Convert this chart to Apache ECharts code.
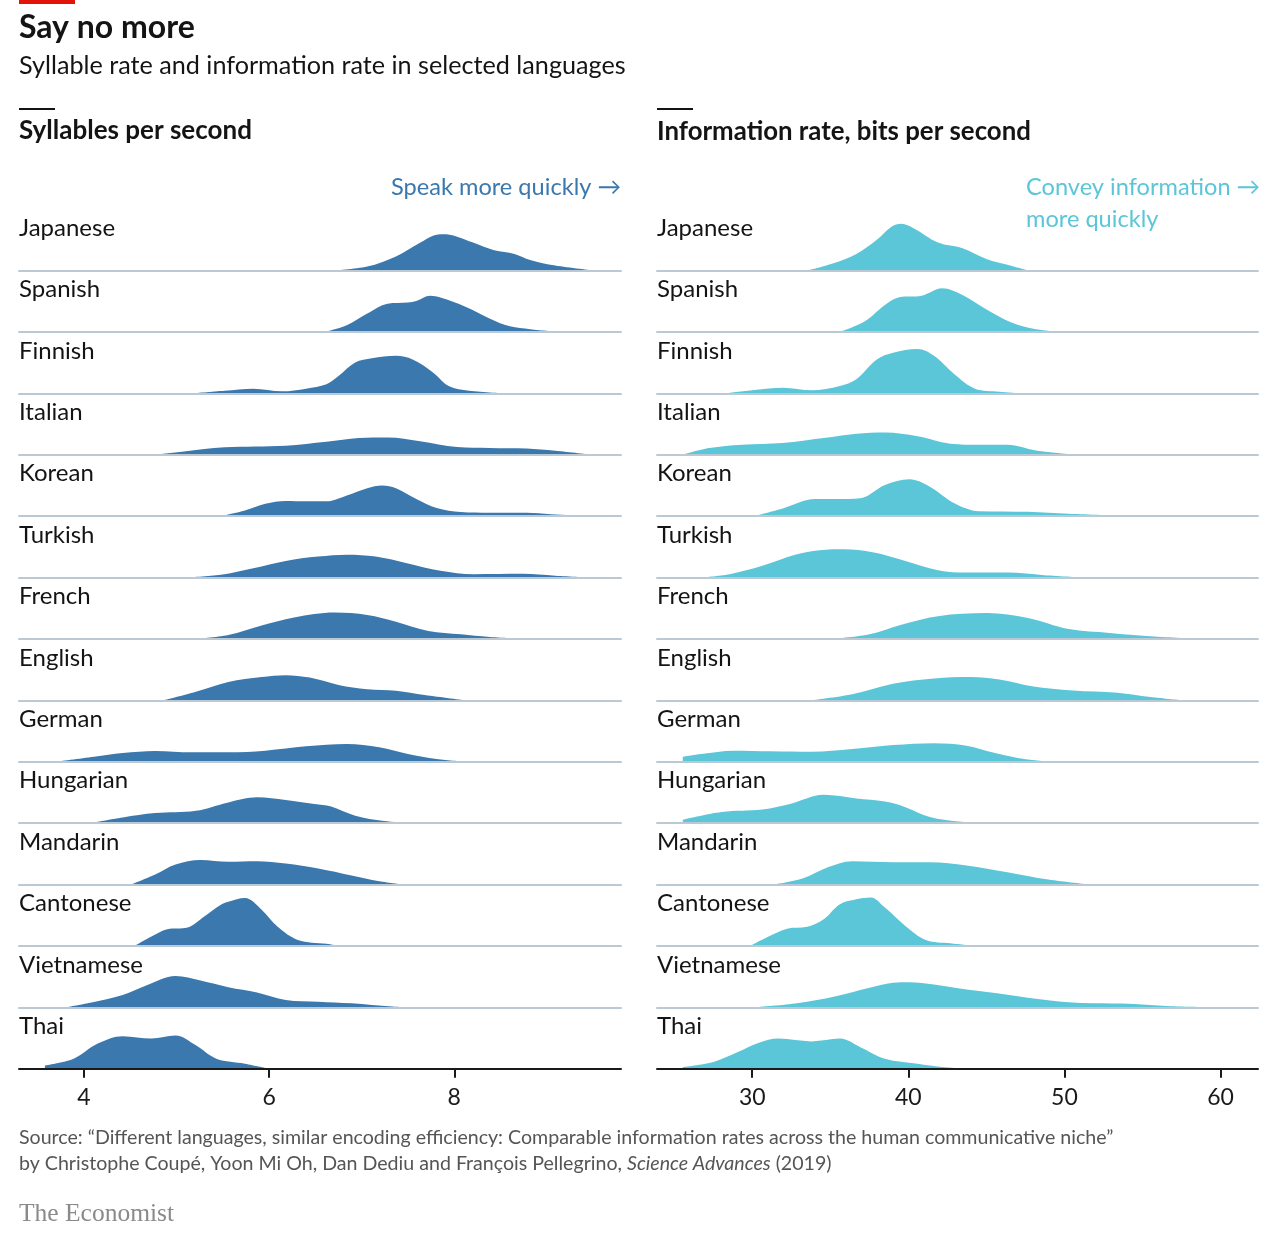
<!DOCTYPE html>
<html><head><meta charset="utf-8">
<script src="https://cdn.jsdelivr.net/npm/echarts@6/dist/echarts.min.js"></script>
<style>html,body{margin:0;padding:0;background:#fff}#c{width:1280px;height:1249px}</style>
</head><body><div id="c"></div>
<script>
// ---------- DATA ----------
const languages = ['Japanese','Spanish','Finnish','Italian','Korean','Turkish','French','English','German','Hungarian','Mandarin','Cantonese','Vietnamese','Thai'];
const syllableTicks = [4, 6, 8];
const infoTicks = [30, 40, 50, 60];

// Syllables per second: [rate, relative density]
const sylJapanese = [[6.69,0],[7.06,0.065],[7.37,0.23],[7.63,0.45],[7.77,0.565],[7.88,0.59],[7.99,0.57],[8.21,0.45],[8.43,0.33],[8.65,0.27],[8.82,0.17],[9.09,0.08],[9.5,0]];
const sylSpanish = [[6.6,0],[6.84,0.11],[7.06,0.3],[7.28,0.46],[7.5,0.48],[7.59,0.505],[7.74,0.59],[7.85,0.56],[8.12,0.41],[8.38,0.22],[8.6,0.09],[8.82,0.045],[9.13,0]];
const sylFinnish = [[5.17,0],[5.52,0.043],[5.83,0.076],[6.14,0.033],[6.4,0.076],[6.62,0.147],[6.75,0.28],[6.93,0.5],[7.11,0.57],[7.37,0.61],[7.55,0.55],[7.77,0.34],[7.94,0.12],[8.16,0.043],[8.56,0]];
const sylItalian = [[4.77,0],[5.08,0.054],[5.52,0.12],[6.18,0.147],[6.62,0.21],[6.97,0.27],[7.28,0.28],[7.63,0.22],[8.03,0.125],[8.38,0.11],[8.78,0.1],[9.09,0.065],[9.48,0]];
const sylKorean = [[5.48,0],[5.74,0.092],[5.96,0.2],[6.18,0.245],[6.4,0.24],[6.62,0.24],[6.84,0.335],[7.06,0.455],[7.22,0.5],[7.37,0.455],[7.59,0.28],[7.81,0.13],[8.07,0.065],[8.38,0.054],[8.78,0.054],[9.04,0.03],[9.48,0]];
const sylTurkish = [[5.12,0],[5.48,0.043],[5.83,0.15],[6.18,0.27],[6.53,0.34],[6.84,0.37],[7.15,0.34],[7.5,0.23],[7.85,0.11],[8.21,0.054],[8.74,0.06],[9.09,0.03],[9.48,0]];
const sylFrench = [[5.21,0],[5.56,0.065],[5.92,0.22],[6.27,0.35],[6.71,0.43],[7.06,0.39],[7.37,0.28],[7.72,0.13],[8.07,0.076],[8.38,0.032],[8.78,0]];
const sylEnglish = [[4.86,0],[5.21,0.14],[5.56,0.3],[5.92,0.38],[6.18,0.41],[6.44,0.37],[6.75,0.25],[7.06,0.18],[7.37,0.157],[7.68,0.087],[8.12,0]];
const sylGerman = [[3.71,0],[4.11,0.08],[4.42,0.14],[4.77,0.174],[5.17,0.152],[5.56,0.152],[5.96,0.18],[6.4,0.25],[6.84,0.29],[7.19,0.234],[7.5,0.125],[7.81,0.043],[8.12,0]];
const sylHungarian = [[4.07,0],[4.42,0.092],[4.77,0.163],[5.21,0.2],[5.56,0.337],[5.87,0.42],[6.18,0.375],[6.49,0.31],[6.67,0.27],[6.93,0.12],[7.24,0.033],[7.55,0]];
const sylMandarin = [[4.51,0],[4.77,0.163],[4.99,0.326],[5.26,0.4],[5.56,0.37],[5.87,0.38],[6.18,0.34],[6.53,0.26],[6.89,0.147],[7.19,0.054],[7.46,0]];
const sylCantonese = [[4.55,0],[4.73,0.152],[4.9,0.27],[5.12,0.3],[5.3,0.48],[5.48,0.67],[5.56,0.72],[5.74,0.78],[5.92,0.59],[6.09,0.315],[6.31,0.098],[6.62,0.033],[6.75,0]];
const sylVietnamese = [[3.8,0],[4.07,0.076],[4.42,0.2],[4.68,0.36],[4.99,0.51],[5.26,0.435],[5.56,0.326],[5.87,0.24],[6.18,0.12],[6.53,0.092],[6.89,0.065],[7.33,0.011],[7.5,0]];
const sylThai = [[3.58,0.054],[3.89,0.163],[4.15,0.41],[4.42,0.53],[4.73,0.49],[4.99,0.54],[5.21,0.38],[5.43,0.163],[5.74,0.082],[6.0,0]];

// Information rate, bits per second: [rate, relative density]
const infJapanese = [[33.53,0],[35.1,0.11],[36.67,0.27],[37.98,0.5],[38.9,0.71],[39.55,0.76],[40.33,0.69],[41.9,0.457],[43.47,0.364],[45.04,0.185],[46.35,0.092],[47.66,0]];
const infSpanish = [[35.62,0],[37.19,0.168],[38.5,0.44],[39.42,0.565],[40.86,0.59],[42.16,0.71],[43.47,0.6],[45.04,0.36],[46.61,0.152],[48.18,0.043],[49.75,0]];
const infFinnish = [[28.3,0],[30.13,0.054],[31.96,0.092],[33.8,0.049],[35.62,0.12],[36.67,0.23],[37.98,0.55],[39.02,0.66],[40.59,0.72],[41.64,0.61],[42.95,0.31],[44.26,0.076],[45.83,0.027],[47.13,0]];
const infItalian = [[25.55,0],[27.25,0.108],[29.35,0.163],[31.96,0.19],[34.58,0.27],[36.67,0.34],[38.5,0.36],[40.59,0.3],[42.69,0.18],[44.52,0.163],[46.35,0.163],[48.18,0.07],[50.8,0]];
const infKorean = [[30.13,0],[31.96,0.125],[34.05,0.277],[35.36,0.277],[36.93,0.29],[38.5,0.505],[40.07,0.6],[41.38,0.48],[42.95,0.21],[44.52,0.08],[47.66,0.07],[50.27,0.038],[54.2,0]];
const infTurkish = [[26.73,0],[28.56,0.054],[30.65,0.19],[32.75,0.37],[34.32,0.445],[35.89,0.46],[37.72,0.41],[39.81,0.27],[41.9,0.12],[43.73,0.08],[46.35,0.08],[48.7,0.038],[51.32,0]];
const infFrench = [[35.1,0],[37.45,0.07],[39.55,0.23],[41.9,0.37],[45.04,0.42],[47.66,0.34],[50.27,0.16],[52.89,0.097],[55.5,0.043],[58.64,0]];
const infEnglish = [[33.8,0],[36.41,0.097],[39.02,0.27],[41.64,0.357],[43.99,0.38],[45.83,0.34],[47.92,0.23],[50.53,0.16],[53.41,0.125],[55.5,0.054],[57.6,0]];
const infGerman = [[25.55,0.08],[26.73,0.125],[28.82,0.18],[31.18,0.17],[33.8,0.163],[36.41,0.206],[39.02,0.27],[41.64,0.3],[43.73,0.26],[45.56,0.14],[47.4,0.043],[49.23,0]];
const infHungarian = [[25.55,0.054],[28.04,0.18],[30.65,0.22],[32.48,0.315],[34.58,0.46],[36.67,0.4],[38.5,0.35],[39.81,0.26],[41.38,0.1],[43.21,0.027],[45.04,0]];
const infMandarin = [[31.44,0],[33.27,0.1],[34.84,0.28],[36.41,0.38],[39.02,0.364],[41.38,0.364],[43.73,0.31],[46.35,0.2],[48.96,0.08],[51.58,0]];
const infCantonese = [[29.87,0],[30.92,0.136],[32.23,0.28],[33.53,0.31],[34.58,0.435],[35.62,0.68],[36.67,0.76],[37.59,0.79],[38.5,0.625],[39.81,0.326],[41.12,0.098],[42.69,0.043],[44.26,0]];
const infVietnamese = [[30.13,0],[32.75,0.06],[35.36,0.18],[37.45,0.315],[39.02,0.4],[40.07,0.41],[41.64,0.37],[43.73,0.29],[46.35,0.206],[48.96,0.114],[51.06,0.07],[53.67,0.06],[56.81,0.016],[59.95,0]];
const infThai = [[25.55,0.027],[27.52,0.11],[29.08,0.27],[30.39,0.42],[31.7,0.49],[33.8,0.445],[35.62,0.49],[36.93,0.35],[38.5,0.163],[40.59,0.08],[42.16,0.027],[43.47,0]];

const syllableCurves = [sylJapanese,sylSpanish,sylFinnish,sylItalian,sylKorean,sylTurkish,sylFrench,sylEnglish,sylGerman,sylHungarian,sylMandarin,sylCantonese,sylVietnamese,sylThai];
const infoCurves = [infJapanese,infSpanish,infFinnish,infItalian,infKorean,infTurkish,infFrench,infEnglish,infGerman,infHungarian,infMandarin,infCantonese,infVietnamese,infThai];

// ---------- LAYOUT ----------
const FONT = 'Lato, "Noto Sans", sans-serif';
const FIRST_BASE = 270.5, ROW = 61.4;
const panels = [
  {left: 19, width: 602, min: 3.3, max: 9.8, ticks: syllableTicks, curves: syllableCurves, color: '#3a78ae'},
  {left: 657, width: 601, min: 23.9, max: 62.4, ticks: infoTicks, curves: infoCurves, color: '#5ac6d7'}
];

const grid = [], xAxis = [], yAxis = [], series = [], graphic = [];
let gi = 0;
panels.forEach(p => {
  languages.forEach((lang, r) => {
    const base = FIRST_BASE + r * ROW;
    const last = r === languages.length - 1;
    grid.push({left: p.left, width: p.width, top: base - ROW, height: ROW});
    xAxis.push({
      gridIndex: gi, type: 'value', min: p.min, max: p.max, z: 5,
      axisLine: {show: true, onZero: false, lineStyle: {color: last ? '#1a1a1a' : '#bac9d4', width: 2}},
      axisTick: {show: last, customValues: p.ticks, length: 9, lineStyle: {color: '#1a1a1a', width: 2}},
      axisLabel: {show: last, customValues: p.ticks, fontSize: 23, color: '#1a1a1a', margin: 17, fontFamily: FONT},
      splitLine: {show: false}
    });
    yAxis.push({gridIndex: gi, type: 'value', min: 0, max: 1, show: false});
    series.push({
      type: 'line', xAxisIndex: gi, yAxisIndex: gi, data: p.curves[r],
      smooth: 0.35, symbol: 'none', silent: true, clip: true,
      lineStyle: {width: 0}, areaStyle: {color: p.color, opacity: 1}
    });
    graphic.push({type: 'text', x: p.left, y: base - 42.5,
      style: {text: lang, fill: '#141414', font: '24px ' + FONT, textVerticalAlign: 'middle'}});
    gi++;
  });
});

const txt = (x, y, text, font, fill, align) => ({type: 'text', x, y,
  style: {text, font, fill: fill || '#141414', textAlign: align || 'left', textVerticalAlign: 'middle'}});

graphic.push(
  {type: 'rect', x: 19, y: 0, shape: {width: 56, height: 4}, style: {fill: '#e3120b'}},
  txt(19, 28, 'Say no more', 'bold 32px ' + FONT),
  txt(19, 66, 'Syllable rate and information rate in selected languages', '25.2px ' + FONT),
  {type: 'rect', x: 19, y: 108, shape: {width: 36, height: 2}, style: {fill: '#141414'}},
  {type: 'rect', x: 657, y: 108, shape: {width: 36, height: 2}, style: {fill: '#141414'}},
  txt(19, 131, 'Syllables per second', 'bold 26px ' + FONT),
  txt(657, 132, 'Information rate, bits per second', 'bold 25.8px ' + FONT),
  txt(621, 187, 'Speak more quickly \u2192', '23.6px ' + FONT, '#3a78ae', 'right'),
  txt(1026, 187, 'Convey information \u2192', '23.6px ' + FONT, '#5ac6d7'),
  txt(1026, 219, 'more quickly', '23.6px ' + FONT, '#5ac6d7'),
  txt(19, 1138, 'Source: \u201cDifferent languages, similar encoding efficiency: Comparable information rates across the human communicative niche\u201d', '19.6px ' + FONT, '#555555'),
  {type: 'text', x: 19, y: 1164, style: {
    text: 'by Christophe Coup\u00e9, Yoon Mi Oh, Dan Dediu and Fran\u00e7ois Pellegrino, {i|Science Advances} (2019)',
    font: '19.6px ' + FONT, fill: '#555555', textVerticalAlign: 'middle',
    rich: {i: {fontStyle: 'italic', fontSize: 19.6, fontFamily: FONT, fill: '#555555'}}}},
  txt(19, 1214, 'The Economist', '25.5px "Liberation Serif", serif', '#8a8a8a')
);

const chart = echarts.init(document.getElementById('c'), null, {renderer: 'canvas'});
chart.setOption({
  backgroundColor: '#ffffff',
  animation: false,
  grid, xAxis, yAxis, series, graphic
});
</script>
</body></html>
